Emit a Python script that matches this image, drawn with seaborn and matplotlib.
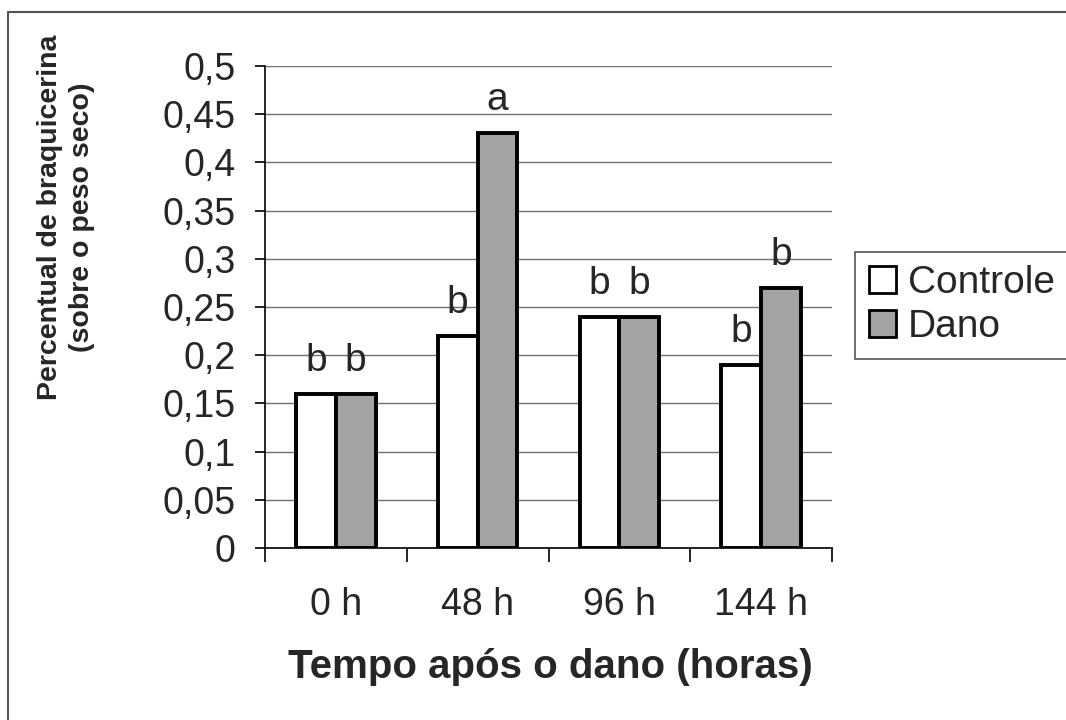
import pandas as pd
import matplotlib
matplotlib.use("Agg")
import matplotlib.pyplot as plt
from matplotlib.patches import Patch
from matplotlib.lines import Line2D
from matplotlib.ticker import MultipleLocator, FixedLocator
import seaborn as sns

# --------------------------------------------------
# data
# --------------------------------------------------
tempos = ["0 h", "48 h", "96 h", "144 h"]
controle = [0.16, 0.22, 0.24, 0.19]
dano = [0.16, 0.43, 0.24, 0.27]
letras_controle = ["b", "b", "b", "b"]
letras_dano = ["b", "a", "b", "b"]
yticks = [0, 0.05, 0.1, 0.15, 0.2, 0.25, 0.3, 0.35, 0.4, 0.45, 0.5]
ytick_labels = ["0", "0,05", "0,1", "0,15", "0,2", "0,25", "0,3", "0,35", "0,4", "0,45", "0,5"]

df = pd.DataFrame({
    "tempo": tempos * 2,
    "valor": controle + dano,
    "grupo": ["Controle"] * len(tempos) + ["Dano"] * len(tempos),
})

cores = {"Controle": "white", "Dano": "#a3a3a3"}

sns.set_style("white")
plt.rcParams["font.family"] = ["Liberation Sans", "DejaVu Sans"]

fig = plt.figure(figsize=(10.66, 7.2), dpi=100)
ax = fig.add_axes([265 / 1066, 1 - 548 / 720, 567 / 1066, 482 / 720])

sns.barplot(
    data=df, x="tempo", y="valor", hue="grupo", order=tempos,
    hue_order=["Controle", "Dano"], palette=cores, width=0.56,
    edgecolor="black", linewidth=2.8, legend=False, ax=ax, zorder=3,
)

# letters above bars
for cont, letras in zip(ax.containers, [letras_controle, letras_dano]):
    for bar, letra in zip(cont, letras):
        ax.text(bar.get_x() + bar.get_width() / 2, bar.get_height() + 0.024,
                letra, ha="center", va="baseline", fontsize=28, zorder=4)

# axes styling
ax.set_ylim(0, 0.5)
ax.set_xlim(-0.5, len(tempos) - 0.5)
ax.yaxis.set_major_locator(FixedLocator(yticks))
ax.set_yticklabels(ytick_labels)
ax.grid(axis="y", color="#707070", linewidth=1, zorder=0)
ax.set_axisbelow(True)
for s in ["top", "right"]:
    ax.spines[s].set_visible(False)
for s in ["left", "bottom"]:
    ax.spines[s].set_color("black")
    ax.spines[s].set_linewidth(1.2)

ax.tick_params(axis="y", left=True, length=7, width=1.2, color="black",
               labelsize=27, pad=14)
ax.tick_params(axis="x", which="major", length=0, labelsize=27, pad=28)
ax.xaxis.set_minor_locator(MultipleLocator(1, offset=0.5))
ax.tick_params(axis="x", which="minor", bottom=True, length=10, width=1.2,
               color="black")
ax.set_xlabel("")
ax.set_ylabel("")

fig.text(550 / 1066, 1 - 667 / 720, "Tempo após o dano (horas)",
         ha="center", va="center", fontsize=29, fontweight="bold")
fig.text(66 / 1066, 1 - 217 / 720, "Percentual de braquicerina\n(sobre o peso seco)",
         ha="center", va="center", rotation=90, multialignment="center",
         fontsize=20.5, fontweight="bold", linespacing=1.3)

# legend
handles = [Patch(facecolor=cores[g], edgecolor="black", linewidth=2, label=g)
           for g in ["Controle", "Dano"]]
leg = fig.legend(handles=handles, loc="center left",
                 bbox_to_anchor=(855 / 1066, 1 - 305 / 720),
                 fontsize=28, frameon=True, fancybox=False, framealpha=1,
                 edgecolor="#555555", handlelength=0.7, handleheight=0.7,
                 handletextpad=0.3, borderpad=0.35, labelspacing=0.2,
                 borderaxespad=0)
leg.get_frame().set_linewidth(1.2)

# outer chart-area frame (top and left edges visible)
fig.add_artist(Line2D([8 / 1066, 1], [1 - 12 / 720, 1 - 12 / 720],
                      color="#555555", linewidth=1.5))
fig.add_artist(Line2D([8 / 1066, 8 / 1066], [0, 1 - 12 / 720],
                      color="#555555", linewidth=1.5))

fig.savefig("out.png", dpi=100, facecolor="white")
plt.close(fig)
